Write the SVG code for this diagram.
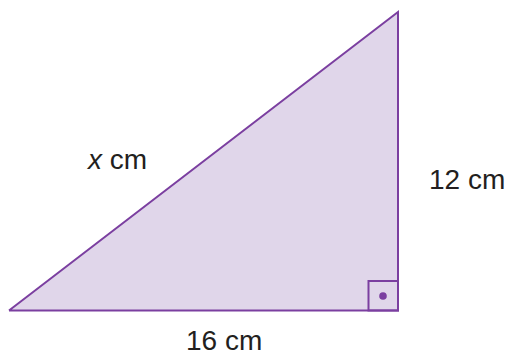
<svg xmlns="http://www.w3.org/2000/svg" width="510" height="355" viewBox="0 0 510 355">
<style>
.lbl{font-family:"Liberation Sans",Arial,sans-serif;font-size:28px;fill:#231F20}
.edge{fill:none;stroke:#7B3FA0;stroke-width:2;stroke-linejoin:miter}
</style>
<rect width="510" height="355" fill="#ffffff"/>
<g id="triangle">
<polygon points="9,310.5 398,310.5 398,12" fill="#E0D6EA" stroke="none"/>
</g>
<g id="connectors">
<polyline class="edge" points="9,310.5 398,310.5 398,12 9,310.5"/>
</g>
<g id="right-angle">
<rect x="368.5" y="281" width="29.5" height="29.5" class="edge"/>
<circle cx="383" cy="296" r="3.8" fill="#7B3FA0"/>
</g>
<g id="label-hyp"><text class="lbl" x="88" y="169"><tspan font-style="italic">x</tspan> cm</text></g>
<g id="label-12"><text class="lbl" x="429" y="189">12 cm</text></g>
<g id="label-16"><text class="lbl" x="186" y="350">16 cm</text></g>
</svg>
